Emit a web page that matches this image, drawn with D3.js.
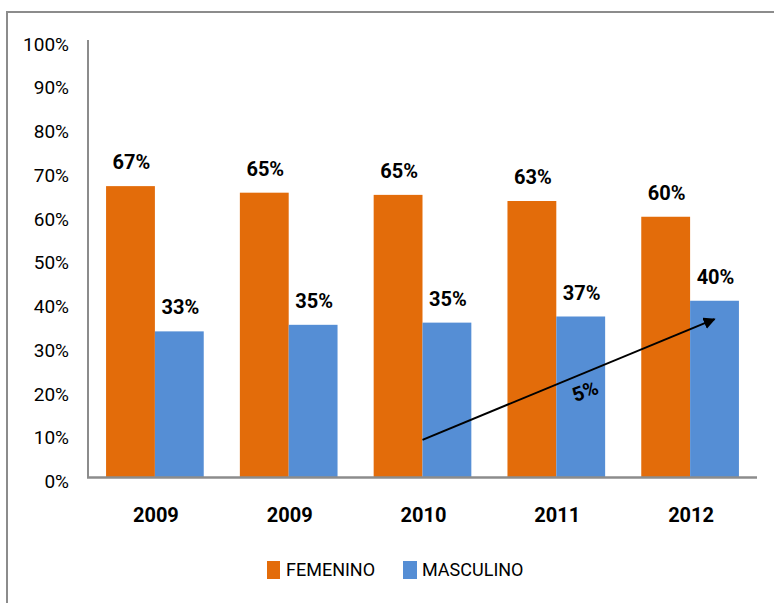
<!DOCTYPE html>
<html>
<head>
<meta charset="utf-8">
<script src="https://cdn.jsdelivr.net/npm/d3@7"></script>
<style>
  body { margin: 0; background: #fff; }
  svg text { font-family: Roboto, "Liberation Sans", sans-serif; fill: #000; }
</style>
</head>
<body>
<div id="chart"></div>
<script>
// Chart data
const years = ["2009", "2009", "2010", "2011", "2012"];
const femenino = [66.6, 65.1, 64.6, 63.2, 59.6];
const masculino = [33.4, 34.9, 35.4, 36.8, 40.4];
const seriesNames = ["FEMENINO", "MASCULINO"];
const yTicks = [0, 10, 20, 30, 40, 50, 60, 70, 80, 90, 100];
// trend arrow: [category index, series, value] at start and end
const arrowFrom = [2, "center", 8.6];
const arrowTo = [4, "MASCULINO", 36.2];
const arrowLabel = "5%";

const colors = { FEMENINO: "#e36c0a", MASCULINO: "#558ed5" };

const width = 774, height = 603;
const svg = d3.select("#chart").append("svg")
  .attr("width", width)
  .attr("height", height);

// outer chart border (runs off the right / bottom edge)
svg.append("rect")
  .attr("x", 7).attr("y", 12)
  .attr("width", 800).attr("height", 700)
  .style("fill", "none")
  .style("stroke", "#8c8c8c")
  .style("stroke-width", 2);

const plot = { left: 88, right: 757, top: 40, bottom: 477.5 };

const x0 = d3.scaleBand()
  .domain(d3.range(years.length))
  .range([plot.left, plot.right])
  .paddingInner(0.27)
  .paddingOuter(0.135);

const x1 = d3.scaleBand()
  .domain(seriesNames)
  .range([0, x0.bandwidth()]);

const y = d3.scaleLinear()
  .domain([0, 100])
  .range([plot.bottom, plot.top]);

const rows = years.map((yr, i) => ({ i, yr, FEMENINO: femenino[i], MASCULINO: masculino[i] }));

// y tick labels
svg.append("g").selectAll("text")
  .data(yTicks)
  .enter().append("text")
  .attr("x", 69)
  .attr("y", d => y(d) + 4)
  .attr("dy", "0.35em")
  .attr("text-anchor", "end")
  .style("font-size", "19px")
  .text(d => d + "%");

// bars
const groups = svg.append("g").selectAll("g")
  .data(rows)
  .enter().append("g")
  .attr("transform", d => `translate(${x0(d.i)},0)`);

groups.selectAll("rect")
  .data(d => seriesNames.map(s => ({ s, v: d[s] })))
  .enter().append("rect")
  .attr("x", d => x1(d.s))
  .attr("y", d => y(d.v))
  .attr("width", x1.bandwidth())
  .attr("height", d => y(0) - y(d.v))
  .style("fill", d => colors[d.s]);

// value labels
groups.selectAll("text")
  .data(d => seriesNames.map(s => ({ s, v: d[s] })))
  .enter().append("text")
  .attr("x", d => x1(d.s) + x1.bandwidth() / 2 + 1)
  .attr("y", d => y(d.v) - 17)
  .attr("text-anchor", "middle")
  .style("font-size", "20px")
  .style("font-weight", "bold")
  .text(d => d3.format(".0f")(d.v) + "%");

// axes lines
svg.append("line")
  .attr("x1", plot.left).attr("x2", plot.left)
  .attr("y1", plot.top).attr("y2", plot.bottom)
  .style("stroke", "#8c8c8c").style("stroke-width", 2);
svg.append("line")
  .attr("x1", plot.left - 1).attr("x2", plot.right)
  .attr("y1", plot.bottom).attr("y2", plot.bottom)
  .style("stroke", "#8c8c8c").style("stroke-width", 2.5);

// category labels
svg.append("g").selectAll("text")
  .data(rows)
  .enter().append("text")
  .attr("x", d => x0(d.i) + x0.bandwidth() / 2 + 1)
  .attr("y", 515)
  .attr("dy", "0.35em")
  .attr("text-anchor", "middle")
  .style("font-size", "20px")
  .style("font-weight", "bold")
  .text(d => d.yr);

// trend arrow
function arrowX(a) {
  return a[1] === "center" ? x0(a[0]) + x0.bandwidth() / 2 : x0(a[0]) + x1(a[1]) + x1.bandwidth() / 2;
}
svg.append("defs").append("marker")
  .attr("id", "arrowhead")
  .attr("viewBox", "0 0 10 10")
  .attr("refX", 9).attr("refY", 5)
  .attr("markerWidth", 6).attr("markerHeight", 6)
  .attr("markerUnits", "strokeWidth")
  .attr("orient", "auto")
  .append("path")
  .attr("d", "M0,0 L10,5 L0,10 Z")
  .style("fill", "#000");

const ax1 = arrowX(arrowFrom), ay1 = y(arrowFrom[2]);
const ax2 = arrowX(arrowTo), ay2 = y(arrowTo[2]);
svg.append("line")
  .attr("x1", ax1).attr("y1", ay1)
  .attr("x2", ax2).attr("y2", ay2)
  .style("stroke", "#000")
  .style("stroke-width", 2)
  .attr("marker-end", "url(#arrowhead)");

const angle = Math.atan2(ay2 - ay1, ax2 - ax1) * 180 / Math.PI;
svg.append("text")
  .attr("transform", `translate(585,391) rotate(${angle + 2})`)
  .attr("text-anchor", "middle")
  .attr("dy", "0.35em")
  .style("font-size", "20px")
  .style("font-weight", "bold")
  .text(arrowLabel);

// legend
const legendX = [267, 403];
const legend = svg.append("g").selectAll("g")
  .data(seriesNames)
  .enter().append("g")
  .attr("transform", (d, i) => `translate(${legendX[i]},561)`);

legend.append("rect")
  .attr("width", (d, i) => i === 0 ? 13 : 14)
  .attr("height", 18)
  .style("fill", d => colors[d]);

legend.append("text")
  .attr("x", 19)
  .attr("y", 9)
  .attr("dy", "0.35em")
  .style("font-size", "18px")
  .text(d => d);
</script>
</body>
</html>
